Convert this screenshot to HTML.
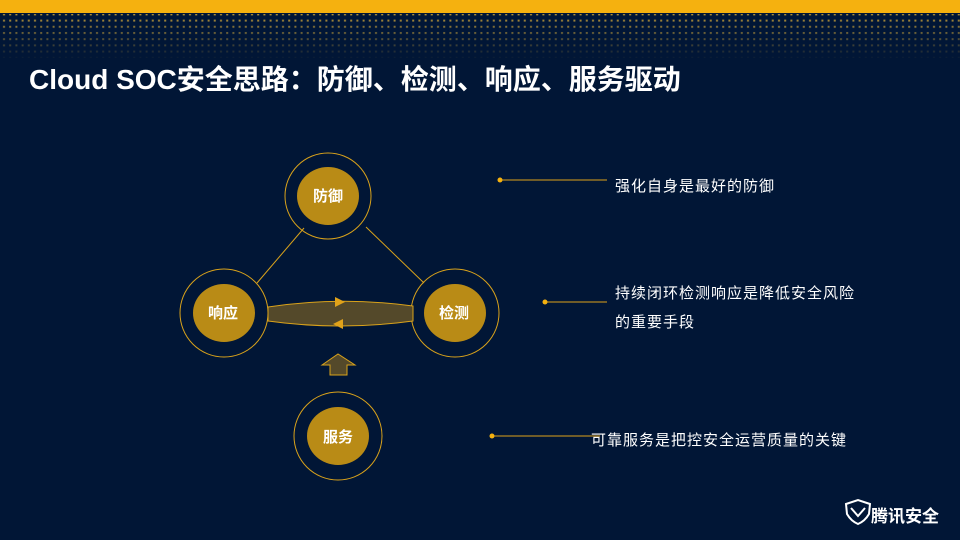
<!DOCTYPE html>
<html><head><meta charset="utf-8"><style>
body{margin:0;width:960px;height:540px;background:#011636;overflow:hidden;position:relative;font-family:"Liberation Sans","Noto Sans CJK SC",sans-serif;}
.t{position:absolute;color:#fff;white-space:nowrap}
.r{font-size:15px;letter-spacing:1px}
</style></head><body>
<svg width="960" height="540" style="position:absolute;left:0;top:0">
<defs>
<pattern id="d" width="6.2" height="6.2" patternUnits="userSpaceOnUse"><rect x="3" y="1" width="2" height="2" fill="#c9a23a"/></pattern>
<linearGradient id="g" x1="0" y1="0" x2="0" y2="1"><stop offset="0" stop-color="#fff" stop-opacity="0.9"/><stop offset="1" stop-color="#fff" stop-opacity="0.05"/></linearGradient>
<mask id="m"><rect x="0" y="14" width="960" height="44" fill="url(#g)"/></mask>
</defs>
<rect x="0" y="0" width="960" height="13" fill="#f5b10f"/>
<rect x="0" y="14" width="960" height="44" fill="url(#d)" mask="url(#m)"/>
<g stroke="#d9a21b" stroke-width="1" fill="none">
<line x1="304" y1="228" x2="257" y2="283"/>
<line x1="366" y1="227" x2="424" y2="283"/>
<circle cx="328" cy="196" r="43"/>
<circle cx="224" cy="313" r="44"/>
<circle cx="455" cy="313" r="44"/>
<circle cx="338" cy="436" r="44"/>
</g>
<path d="M268 307 Q340 296 413 306 L413 321 Q340 331 268 321 Z" fill="#54492a" stroke="#d9a21b" stroke-width="1"/>
<polygon points="335,297 345,302 335,307" fill="#e0a21a"/>
<polygon points="343,319 333,324 343,329" fill="#e0a21a"/>
<polygon points="322,365 338,354 355,365 347,365 347,375 330,375 330,365" fill="#54492a" stroke="#d9a21b" stroke-width="1"/>
<g fill="#b98b16">
<ellipse cx="328" cy="196" rx="31" ry="29"/>
<ellipse cx="224" cy="313" rx="31" ry="29"/>
<ellipse cx="455" cy="313" rx="31" ry="29"/>
<ellipse cx="338" cy="436" rx="31" ry="29"/>
</g>
<g stroke="#e0a21a" stroke-width="1"><line x1="500" y1="180" x2="607" y2="180"/><line x1="545" y1="302" x2="607" y2="302"/><line x1="492" y1="436" x2="600" y2="436"/></g>
<g fill="#f5b10f"><circle cx="500" cy="180" r="2.5"/><circle cx="545" cy="302" r="2.5"/><circle cx="492" cy="436" r="2.5"/></g>
<path d="M846 504 L858 500 L870 504 L869 514 Q865 521 858 524 Q851 521 847 514 Z" fill="none" stroke="#fff" stroke-width="2"/>
<path d="M851 508 L858 516 L865 508" fill="none" stroke="#fff" stroke-width="2"/>
</svg>
<div class="t" style="left:29px;top:58px;font-size:28px;font-weight:bold">Cloud SOC安全思路：防御、检测、响应、服务驱动</div>
<div class="t" style="left:313px;top:185px;font-size:15px;font-weight:bold">防御</div>
<div class="t" style="left:208px;top:302px;font-size:15px;font-weight:bold">响应</div>
<div class="t" style="left:439px;top:302px;font-size:15px;font-weight:bold">检测</div>
<div class="t" style="left:323px;top:426px;font-size:15px;font-weight:bold">服务</div>
<div class="t r" style="left:615px;top:175px">强化自身是最好的防御</div>
<div class="t r" style="left:615px;top:279px;line-height:29px">持续闭环检测响应是降低安全风险<br>的重要手段</div>
<div class="t r" style="left:591px;top:429px">可靠服务是把控安全运营质量的关键</div>
<div class="t" style="left:871px;top:502px;font-size:17px;font-weight:bold">腾讯安全</div>
</body></html>
